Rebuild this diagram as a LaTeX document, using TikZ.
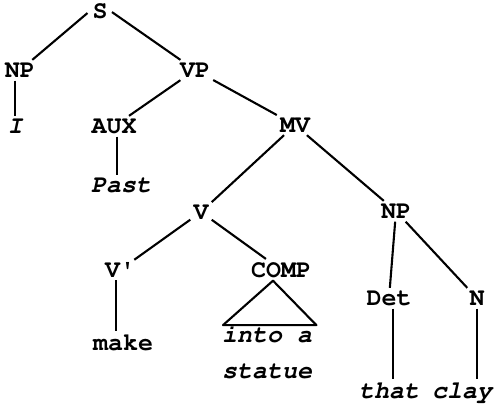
\documentclass[tikz,border=0pt]{standalone}
\usepackage[T1]{fontenc}
\usepackage{courier}
\begin{document}
\begin{tikzpicture}[x=1pt,y=-1pt,
  lab/.style={font=\ttfamily\bfseries\fontsize{25}{29}\selectfont, anchor=base, inner sep=3pt},
  leaf/.style={lab, font=\ttfamily\bfseries\itshape\fontsize{25}{29}\selectfont},
  edge/.style={line width=2.1pt}]
\useasboundingbox (0,0) rectangle (497,412);
\node[lab, inner sep=1pt] (S) at (100,19) {S};
\node[lab] (NP1) at (20,77) {NP};
\node[leaf] (I) at (15,133) {I};
\node[lab] (VP) at (195,77) {VP};
\node[lab] (AUX) at (114,133) {AUX};
\node[leaf] (Past) at (121,192) {Past};
\node[lab] (MV) at (295,132) {MV};
\node[lab] (V) at (201,219) {V};
\node[lab] (NP2) at (396,218) {NP};
\node[lab] (Vp) at (120,277) {V\textquotesingle};
\node[lab] (COMP) at (281,277) {COMP};
\node[lab] (make) at (123,350) {make};
\node[leaf, anchor=base west, inner sep=0pt] (into) at (222,342) {into a};
\node[leaf, anchor=base west, inner sep=0pt] (statue) at (222,378) {statue};
\node[lab] (Det) at (389,305) {Det};
\node[lab] (N) at (477,305) {N};
\node[leaf] (that) at (389,398) {that};
\node[leaf] (clay) at (462,398) {clay};
\draw[edge, shorten <=5pt] ([yshift=2pt]S.west) -- (NP1);
\draw[edge, shorten <=4pt] ([yshift=2pt]S.east) -- (VP);
\draw[edge] (I |- NP1.south) -- (I.north);
\draw[edge] (VP) -- (AUX);
\draw[edge] (VP) -- (MV);
\draw[edge] ([xshift=3pt]AUX.south) -- ([xshift=3pt]AUX.south |- Past.north);
\draw[edge] (MV) -- (V);
\draw[edge] (MV) -- (NP2);
\draw[edge] (V) -- (Vp);
\draw[edge] (V) -- (COMP);
\draw[edge] ([xshift=-4pt]Vp.south) -- ([xshift=-4pt]Vp.south |- make.north);
\draw[edge] (NP2) -- (Det);
\draw[edge] (NP2) -- (N);
\draw[edge] ([xshift=4pt]Det.south) -- ([xshift=4pt]Det.south |- that.north);
\draw[edge] (N) -- (N |- clay.north);
\draw[edge, line join=round] ([xshift=-8pt]COMP.south) -- ([xshift=1pt]into.north west) -- ([xshift=4pt]into.north east) -- cycle;
\end{tikzpicture}
\end{document}
